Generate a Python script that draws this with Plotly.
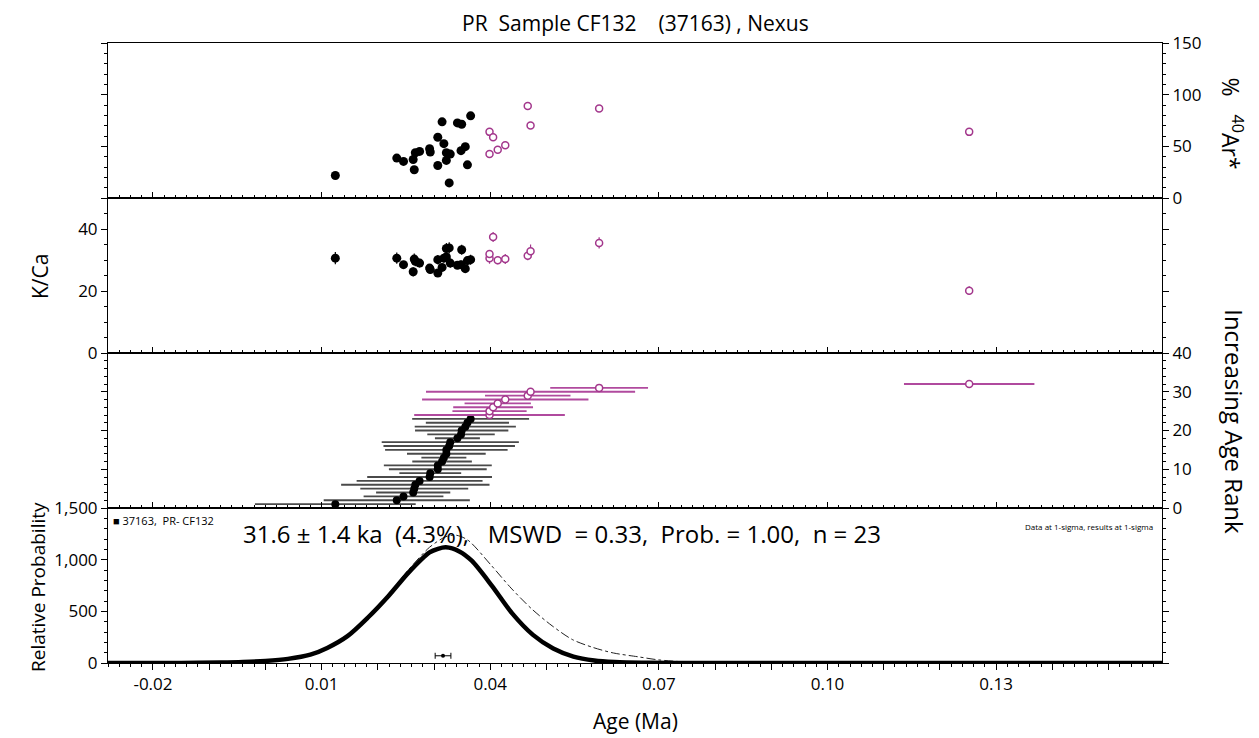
import plotly.graph_objects as go
from plotly.subplots import make_subplots

# ---------------- data ----------------
# included grains (black), sorted by age, ages in Ma
inc_age = [0.01244, 0.02337, 0.02457, 0.02629, 0.02648, 0.02667, 0.02743, 0.02921,
           0.02933, 0.03067, 0.03067, 0.03143, 0.03175, 0.03219, 0.03219, 0.03270,
           0.03289, 0.03416, 0.03480, 0.03492, 0.03556, 0.03594, 0.03651]
inc_sig = [0.0143, 0.0130, 0.0071, 0.0066, 0.0096, 0.0132, 0.0112, 0.0111,
           0.0055, 0.0087, 0.0096, 0.0053, 0.0040, 0.0070, 0.0109, 0.0117,
           0.0122, 0.0040, 0.0060, 0.0083, 0.0090, 0.0074, 0.0104]
inc_ar = [21.8, 38.6, 35.4, 37.3, 27.3, 43.8, 45.1, 47.7, 44.5, 31.5, 58.8, 73.7,
          52.6, 43.8, 36.4, 14.6, 42.5, 72.7, 45.8, 71.4, 49.7, 32.1, 79.5]
inc_kca = [30.6, 30.6, 28.5, 26.2, 30.3, 29.6, 29.0, 27.4, 26.9, 25.8, 30.1, 27.6,
           30.6, 33.7, 31.0, 33.9, 29.0, 28.3, 28.5, 33.3, 27.2, 29.8, 30.1]
inc_kca_err = [2.0, 1.8, 1.2, 1.5, 1.8, 1.6, 1.4, 1.2, 1.4, 1.3, 1.5, 1.2,
               1.4, 1.8, 1.5, 1.8, 1.5, 1.2, 1.3, 1.6, 1.3, 1.4, 1.6]
inc_rank = list(range(1, 24))

# excluded grains (magenta open circles)
exc_age = [0.03987, 0.03987, 0.04051, 0.04133, 0.04267, 0.04667, 0.04717, 0.05937, 0.1252]
exc_sig = [0.0134, 0.0066, 0.0071, 0.0059, 0.0148, 0.0076, 0.0186, 0.0087, 0.0116]
exc_ar = [42.5, 64.0, 58.8, 46.8, 51.0, 89.0, 70.1, 86.7, 64.0]
exc_kca = [30.6, 31.9, 37.4, 29.9, 30.3, 31.4, 32.8, 35.5, 20.1]
exc_kca_err = [1.8, 1.3, 1.6, 1.3, 1.6, 1.5, 2.2, 1.8, 1.4]
exc_rank = list(range(24, 33))

# probability curves
pdf_age = [-0.028, -0.015, -0.008, -0.004, 0.000, 0.004, 0.008, 0.011, 0.0146, 0.0182,
           0.0219, 0.0255, 0.0292, 0.0307, 0.0321, 0.0345, 0.0367, 0.0403, 0.0439, 0.0476,
           0.0512, 0.0548, 0.0585, 0.0621, 0.068, 0.075, 0.10, 0.1595]
pdf_inc = [0, 1, 5, 10, 20, 40, 81, 146, 260, 438,
           649, 877, 1070, 1105, 1120, 1080, 990, 747, 480, 272,
           140, 62, 24, 9, 2, 0, 0, 0]
pdf_all_age = [-0.028, -0.015, -0.008, -0.004, 0.000, 0.004, 0.008, 0.011, 0.0146, 0.0182,
               0.0219, 0.0255, 0.0292, 0.0320, 0.0338, 0.0360, 0.0401, 0.0437, 0.0474,
               0.0510, 0.0546, 0.0583, 0.0619, 0.0663, 0.070, 0.075, 0.085, 0.100, 0.110,
               0.118, 0.125, 0.132, 0.140, 0.150, 0.1595]
pdf_all = [0, 1, 5, 10, 20, 40, 81, 146, 262, 445,
           665, 905, 1120, 1220, 1238, 1190, 950, 725, 522,
           360, 227, 150, 97, 60, 30, 10, 2, 1, 5,
           10, 12, 10, 5, 1, 0]

mean_age = [0.0316]
mean_err = [0.0014]
mean_y = [70]

NB = "\u00a0"
title_text = f"PR{NB}{NB}Sample CF132{NB}{NB}{NB}{NB}(37163) , Nexus"
stat_text = (f"31.6 ± 1.4 ka{NB}{NB}(4.3%),{NB}{NB}{NB}MSWD{NB}{NB}= 0.33,{NB}{NB}"
             f"Prob. = 1.00,{NB}{NB}n = 23")
legend_text = f"■ 37163,{NB}{NB}PR- CF132"
note_text = "Data at 1-sigma, results at 1-sigma"

x_major = [round(-0.02 + 0.01 * i, 2) for i in range(18)]
x_labels = {-0.02: "-0.02", 0.01: "0.01", 0.04: "0.04", 0.07: "0.07", 0.1: "0.10", 0.13: "0.13"}

# ---------------- figure ----------------
BLACK = "#000000"
MAG = "#A3378C"
FONT = "Open Sans"

fig = make_subplots(rows=4, cols=1, shared_xaxes=True, vertical_spacing=0)

# panel 1 : %40Ar*
fig.add_trace(go.Scatter(x=inc_age, y=inc_ar, mode="markers",
                         marker=dict(color=BLACK, size=9)), row=1, col=1)
fig.add_trace(go.Scatter(x=exc_age, y=exc_ar, mode="markers",
                         marker=dict(color="white", size=7, line=dict(color=MAG, width=1.5))),
              row=1, col=1)

# panel 2 : K/Ca
fig.add_trace(go.Scatter(x=inc_age, y=inc_kca, mode="markers",
                         error_y=dict(type="data", array=inc_kca_err, color=BLACK, thickness=1.2, width=0),
                         marker=dict(color=BLACK, size=9)), row=2, col=1)
fig.add_trace(go.Scatter(x=exc_age, y=exc_kca, mode="markers",
                         error_y=dict(type="data", array=exc_kca_err, color=MAG, thickness=1.2, width=0),
                         marker=dict(color="white", size=7, line=dict(color=MAG, width=1.5))),
              row=2, col=1)

# panel 3 : rank plot
fig.add_trace(go.Scatter(x=inc_age, y=inc_rank, mode="markers",
                         error_x=dict(type="data", array=inc_sig, color="#4a4a4a", thickness=1.8, width=0),
                         marker=dict(color=BLACK, size=8)), row=3, col=1)
fig.add_trace(go.Scatter(x=exc_age, y=exc_rank, mode="markers",
                         error_x=dict(type="data", array=exc_sig, color="#B04A9E", thickness=1.8, width=0),
                         marker=dict(color="white", size=7, line=dict(color=MAG, width=1.5))),
              row=3, col=1)

# panel 4 : probability
fig.add_trace(go.Scatter(x=pdf_all_age, y=pdf_all, mode="lines",
                         line=dict(color="#222222", width=1, dash="dashdot", shape="spline", smoothing=0.8)),
              row=4, col=1)
fig.add_trace(go.Scatter(x=pdf_age, y=pdf_inc, mode="lines",
                         line=dict(color=BLACK, width=4.5, shape="spline", smoothing=0.8)),
              row=4, col=1)
fig.add_trace(go.Scatter(x=mean_age, y=mean_y, mode="markers",
                         error_x=dict(type="data", array=mean_err, color=BLACK, thickness=1, width=3),
                         marker=dict(color=BLACK, size=4)), row=4, col=1)

# axes
tickfont = dict(family=FONT, size=17, color=BLACK)
for r in range(1, 5):
    tk = "inside" if r < 4 else "outside"
    fig.update_xaxes(row=r, col=1, range=[-0.028, 0.1595], showgrid=False, zeroline=False,
                     showline=True, linecolor=BLACK, linewidth=1, mirror=True,
                     tickmode="array", tickvals=x_major,
                     ticktext=[x_labels.get(v, "") for v in x_major],
                     ticks=tk, ticklen=6, tickwidth=1, tickcolor=BLACK,
                     minor=dict(dtick=0.002, tick0=0, ticklen=3, tickcolor=BLACK, ticks=tk),
                     tickfont=tickfont)
fig.update_xaxes(row=4, col=1, showticklabels=True)

ycommon = dict(showgrid=False, zeroline=False, showline=True, linecolor=BLACK, linewidth=1,
               mirror="ticks", ticks="outside", ticklen=6, tickwidth=1, tickcolor=BLACK,
               tickfont=tickfont)
fig.update_yaxes(row=1, col=1, range=[0, 150], side="right", tickvals=[0, 50, 100, 150],
                 minor=dict(dtick=10, ticklen=3, ticks="outside", tickcolor=BLACK), **ycommon)
fig.update_yaxes(row=2, col=1, range=[0, 50], side="left", tickvals=[0, 20, 40],
                 minor=dict(dtick=5, ticklen=3, ticks="outside", tickcolor=BLACK), **ycommon)
fig.update_yaxes(row=3, col=1, range=[0, 40], side="right", tickvals=[0, 10, 20, 30, 40],
                 minor=dict(dtick=2, ticklen=3, ticks="outside", tickcolor=BLACK), **ycommon)
fig.update_yaxes(row=4, col=1, range=[0, 1500], side="left", tickvals=[0, 500, 1000, 1500],
                 ticktext=["0", "500", "1,000", "1,500"],
                 minor=dict(dtick=100, ticklen=3, ticks="outside", tickcolor=BLACK), **ycommon)

def txt(size):
    return dict(family=FONT, size=size, color=BLACK)

ann = [
    dict(text=title_text, x=0.5, y=1, xref="paper", yref="paper", yanchor="middle",
         yshift=20, showarrow=False, font=txt(21)),
    dict(text="Age (Ma)", x=0.5, y=0, xref="paper", yref="paper", yanchor="middle",
         yshift=-58, showarrow=False, font=txt(21)),
    dict(text=f"%{NB}{NB}{NB}<sup>40</sup>Ar*", x=1, y=0.87, xref="paper", yref="paper",
         xanchor="center", yanchor="middle", xshift=70, textangle=90, showarrow=False, font=txt(23)),
    dict(text="Increasing Age Rank", x=1, y=0.39, xref="paper", yref="paper",
         xanchor="center", yanchor="middle", xshift=73, textangle=90, showarrow=False, font=txt(24)),
    dict(text="K/Ca", x=0, y=0.6226, xref="paper", yref="paper",
         xanchor="center", yanchor="middle", xshift=-68, textangle=-90, showarrow=False, font=txt(21)),
    dict(text="Relative Probability", x=0, y=0.1226, xref="paper", yref="paper",
         xanchor="center", yanchor="middle", xshift=-70, textangle=-90, showarrow=False, font=txt(19)),
    dict(text=stat_text, x=0.431, y=0.25, xref="paper", yref="paper", xanchor="center",
         yanchor="middle", yshift=-25, showarrow=False, font=txt(24)),
    dict(text=legend_text, x=0, y=0.25, xref="paper", yref="paper", xanchor="left",
         yanchor="middle", xshift=3, yshift=-12, showarrow=False, font=txt(11)),
    dict(text=note_text, x=1, y=0.25, xref="paper", yref="paper", xanchor="right",
         yanchor="middle", xshift=-7, yshift=-18, showarrow=False, font=txt(8)),
]

# the page adds an 8px body margin, so the figure is sized to end at the window edge
fig.update_layout(width=1251, height=730, showlegend=False,
                  margin=dict(l=100, r=97, t=35, b=75),
                  paper_bgcolor="white", plot_bgcolor="white",
                  annotations=ann)

fig.write_html("out.html")
